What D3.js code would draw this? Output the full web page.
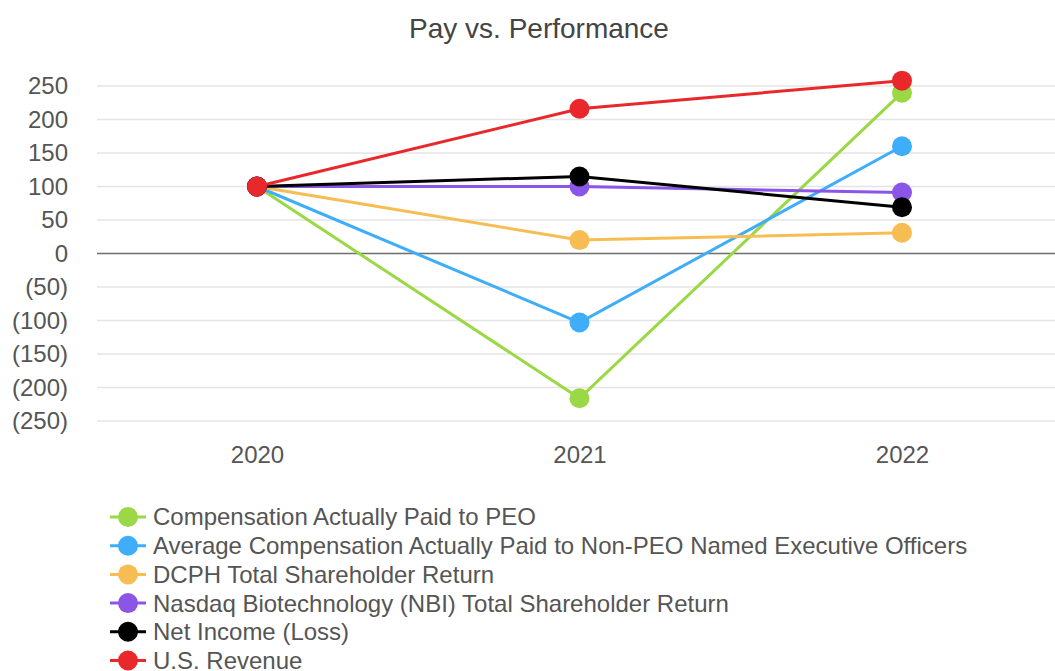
<!DOCTYPE html>
<html>
<head>
<meta charset="utf-8">
<script src="https://cdn.jsdelivr.net/npm/d3@7"></script>
<style>
  body { margin: 0; background: #fff; }
  svg text { font-family: "Liberation Sans", Arial, sans-serif; }
</style>
</head>
<body>
<div id="chart"></div>
<script>
var years = ["2020", "2021", "2022"];
var seriesNames = [
  "Compensation Actually Paid to PEO",
  "Average Compensation Actually Paid to Non-PEO Named Executive Officers",
  "DCPH Total Shareholder Return",
  "Nasdaq Biotechnology (NBI) Total Shareholder Return",
  "Net Income (Loss)",
  "U.S. Revenue"
];
var seriesColors = ["#9bd845", "#3eaefa", "#f7bd52", "#8b55e7", "#000000", "#e8282b"];
var peoValues = [100, -216, 240];
var neoValues = [100, -103, 160];
var dcphValues = [100, 20, 31];
var nbiValues = [100, 100, 91];
var netIncomeValues = [100, 115, 69];
var revenueValues = [100, 216, 258];
var yTicks = [250, 200, 150, 100, 50, 0, -50, -100, -150, -200, -250];

var allValues = [peoValues, neoValues, dcphValues, nbiValues, netIncomeValues, revenueValues];
var series = seriesNames.map(function(name, i) {
  return { name: name, color: seriesColors[i], values: allValues[i] };
});

var w = 1055;
var h = 671;

var svg = d3.select("#chart")
            .append("svg")
            .attr("width", w)
            .attr("height", h);

var x = d3.scalePoint()
    .domain(years)
    .range([257, 902]);

var y = d3.scaleLinear()
    .domain([-250, 250])
    .range([421, 86]);

// title
svg.append("text")
   .attr("x", 539)
   .attr("y", 38)
   .attr("text-anchor", "middle")
   .attr("font-size", 28)
   .attr("fill", "#444")
   .text("Pay vs. Performance");

// gridlines
svg.append("g")
   .selectAll("line")
   .data(yTicks.filter(function(d) { return d !== 0; }))
   .enter()
   .append("line")
   .attr("x1", 97)
   .attr("x2", w)
   .attr("y1", function(d) { return y(d); })
   .attr("y2", function(d) { return y(d); })
   .attr("stroke", "#e4e4e4")
   .attr("stroke-width", 1.5);

svg.append("line")
   .attr("x1", 97)
   .attr("x2", w)
   .attr("y1", y(0))
   .attr("y2", y(0))
   .attr("stroke", "#6e6e6e")
   .attr("stroke-width", 1.5);

// y axis
var yAxis = d3.axisLeft(y)
    .tickValues(yTicks)
    .tickSize(0)
    .tickPadding(0)
    .tickFormat(function(d) { return d < 0 ? "(" + (-d) + ")" : d; });

var yg = svg.append("g")
   .attr("transform", "translate(68,0)")
   .call(yAxis);
yg.select(".domain").remove();
yg.selectAll("text")
  .attr("font-size", 24)
  .attr("fill", "#555");

// x axis
var xAxis = d3.axisBottom(x).tickSize(0).tickPadding(0);
var xg = svg.append("g")
   .attr("transform", "translate(0,446)")
   .call(xAxis);
xg.select(".domain").remove();
xg.selectAll("text")
  .attr("font-size", 24)
  .attr("fill", "#555");

// lines
var line = d3.line()
    .x(function(d, i) { return x(years[i]); })
    .y(function(d) { return y(d); });

var groups = svg.selectAll(".series")
    .data(series)
    .enter()
    .append("g")
    .attr("class", "series");

groups.append("path")
    .attr("d", function(d) { return line(d.values); })
    .attr("fill", "none")
    .attr("stroke", function(d) { return d.color; })
    .attr("stroke-width", 3);

groups.selectAll("circle")
    .data(function(d) {
      return d.values.map(function(v, i) { return { v: v, i: i, color: d.color }; });
    })
    .enter()
    .append("circle")
    .attr("cx", function(d) { return x(years[d.i]); })
    .attr("cy", function(d) { return y(d.v); })
    .attr("r", 10)
    .attr("fill", function(d) { return d.color; });

// legend
var legend = svg.selectAll(".legend")
    .data(series)
    .enter()
    .append("g")
    .attr("class", "legend")
    .attr("transform", function(d, i) { return "translate(110," + (517 + i * 28.7) + ")"; });

legend.append("line")
    .attr("x1", 0)
    .attr("x2", 36)
    .attr("stroke", function(d) { return d.color; })
    .attr("stroke-width", 3);

legend.append("circle")
    .attr("cx", 18)
    .attr("r", 10)
    .attr("fill", function(d) { return d.color; });

legend.append("text")
    .attr("x", 43)
    .attr("dy", "0.35em")
    .attr("font-size", 24)
    .attr("fill", "#555")
    .text(function(d) { return d.name; });
</script>
</body>
</html>
